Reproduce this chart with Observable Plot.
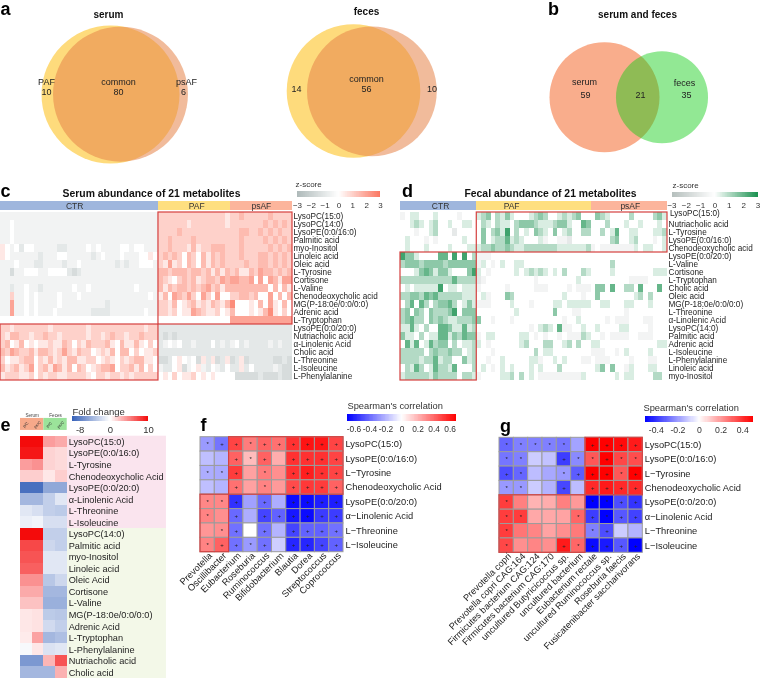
<!DOCTYPE html>
<html>
<head>
<meta charset="utf-8">
<script src="https://cdn.jsdelivr.net/npm/d3@7"></script>
<script src="https://cdn.jsdelivr.net/npm/@observablehq/plot@0.6"></script>
<style>
html,body{margin:0;padding:0;background:#fff}
#page{position:relative;width:760px;height:688px;overflow:hidden;filter:blur(0.5px)}
#page svg{position:absolute;left:0;top:0}
</style>
</head>
<body>
<div id="page"></div>
<script>
// ---------- values ----------
const vennSerum = [{name:"PAF",n:90},{name:"psAF",n:86}];
const vennFeces = [{name:"PAF",n:70},{name:"psAF",n:66}];
const vennBoth  = [{name:"serum",n:80},{name:"feces",n:56}];

const serumRows = ["LysoPC(15:0)","LysoPC(14:0)","LysoPE(0:0/16:0)","Palmitic acid","myo-Inositol","Linoleic acid","Oleic acid","L-Tyrosine","Cortisone","L-Valine","Chenodeoxycholic acid","MG(P-18:0e/0:0/0:0)","Adrenic acid","L-Tryptophan","LysoPE(0:0/20:0)","Nutriacholic acid","α-Linolenic Acid","Cholic acid","L-Threonine","L-Isoleucine","L-Phenylalanine"];
const fecalRows = ["LysoPC(15:0)","Nutriacholic acid","L-Tyrosine","LysoPE(0:0/16:0)","Chenodeoxycholic acid","LysoPE(0:0/20:0)","L-Valine","Cortisone","L-Tryptophan","Cholic acid","Oleic acid","MG(P-18:0e/0:0/0:0)","L-Threonine","α-Linolenic Acid","LysoPC(14:0)","Palmitic acid","Adrenic acid","L-Isoleucine","L-Phenylalanine","Linoleic acid","myo-Inositol"];

// one digit per sample: 0..9 stand for z = -1.5 .. 3 in half steps
const serumCTR = [
"22222 22222 22222 22222 22222 22222 222",
"22322 22222 22222 22222 22222 22222 222",
"22322 22222 22222 22222 22222 22222 222",
"22322 22222 22222 22222 22222 22222 222",
"43231 33222 22112 22232 32222 33233 222",
"43222 22212 22332 22221 23222 32223 343",
"22232 22112 22212 23222 22221 21223 332",
"22022 33322 33331 01222 22222 22222 222",
"22222 22222 22222 22222 22222 22222 222",
"22122 32212 22222 32232 22222 22232 222",
"22522 32322 22322 23222 22222 22222 232",
"22722 32322 22322 22222 22122 22222 222",
"22722 32322 23222 22221 11122 22222 322",
"33333 33333 33333 33333 33333 33333 333",
"55455 55555 45555 55545 55555 55555 455",
"54665 54556 55455 55545 54565 54556 555",
"56346 34344 54465 35465 55643 64464 353",
"65765 56466 54575 46553 45463 66353 445",
"53445 66354 64546 64455 34543 54566 443",
"64564 57356 47646 36534 56673 55646 353",
"45554 45354 55445 55543 55455 45455 555"];
const serumPAF = [
"55555 55555 55554","55555 54555 55554","55556 55555 55555","55655 55655 55555",
"55655 54645 56665","56565 36536 46565","54745 36536 46565","66566 65665 64646",
"65435 65645 66576","64656 65656 75646","46376 57537 53733","55463 45645 46546",
"55453 44765 44534","33333 33333 33333","11111 11111 11111","10101 11111 11111",
"12323 11211 13121","11111 11111 11111","00134 32304 14014","21134 02342 13213",
"34353 44534 34333"];
const serumPsAF = [
"55655 55565 555","55555 55656 565","55665 56565 655","55655 55656 565",
"55655 55565 656","55655 56656 565","55565 56656 565","56446 57665 656",
"77667 37376 477","66666 66636 364","55665 63373 636","83334 36374 363",
"63334 34684 353","77777 77777 777","11111 11111 111","11111 11111 111",
"23121 11121 211","11111 11111 111","01401 11110 010","11413 11112 100",
"30000 01000 100"];

const fecalCTR = [
"23443 33433 33233 3","33454 34533 43344 3","33323 34533 31333 3","34333 23233 33343 3","34333 43333 43334 4",
"86643 33377 38383 5","56665 66665 66666 6","33346 76466 43336 8","55555 55555 57555 5","34344 44483 44344 4",
"55665 76755 55544 4","35737 53566 75346 4","56365 36555 68366 6","56755 36565 44555 6","44743 53377 64474 5",
"64435 34477 46576 6","37473 47566 35344 5","55555 35655 65534 5","55554 55745 53364 5","35475 34755 47333 5",
"45555 54655 55355 4"];
const fecalPAF = [
"45635 46433 34565 33454 5633","35435 44356 66544 45664 3376","36356 48353 43654 36345 3355",
"36345 57454 33342 33221 3333","45565 56544 55555 55444 4445","22233 33333 33333 33333 3333",
"24323 43344 33333 33333 3333","43233 33343 45454 34353 3354","12333 33333 33233 33333 3433",
"23333 32333 33222 33332 3222","34233 36533 33333 33343 3323","22233 33433 32333 34434 4444",
"33333 33343 33333 36333 2233","63323 33233 33333 33323 3433","33333 33333 32345 43722 3343",
"23443 33334 43232 33232 2254","43233 33334 53335 53345 3533","33323 33333 33534 43333 3333",
"33233 43333 34423 34343 3322","34323 43433 34343 33533 3333","23333 44535 34322 22222 2243"];
const fecalPsAF = [
"36543 33353 33356 4","33353 33433 43334 3","33534 73344 33344 5","33335 63345 33323 4","23222 22224 34433 4",
"33333 33333 33333 3","33335 33333 33333 3","33334 33333 33344 4","33333 33322 22333 3","36637 33553 73337 3",
"36333 33334 53533 3","33443 33443 33433 3","33333 33233 33333 3","33323 22233 32233 3","34333 34433 33233 3",
"33232 22233 22233 3","44333 33333 33334 4","22233 23433 33433 3","32223 33323 33223 3","34636 33243 33443 3",
"33333 43443 33355 3"];

const foldRows = ["LysoPC(15:0)","LysoPE(0:0/16:0)","L-Tyrosine","Chenodeoxycholic Acid","LysoPE(0:0/20:0)","α-Linolenic Acid","L-Threonine","L-Isoleucine","LysoPC(14:0)","Palmitic acid","myo-Inositol","Linoleic acid","Oleic Acid","Cortisone","L-Valine","MG(P-18:0e/0:0/0:0)","Adrenic Acid","L-Tryptophan","L-Phenylalanine","Nutriacholic acid","Cholic acid"];
const foldValues = [
[10,10,4,3.5],[9.5,9.5,1.8,1.5],[4,4.5,1.8,1.5],[2,2,1,2],[-9,-9,-5.5,-5.5],[-4.5,-4.5,-3,-1.5],[-1.5,-2,-3,-3.3],[-1,-0.7,-2,-2],
[10,10,-3,-3],[7.5,7.5,-2.5,-3],[7,7,-1.5,-1.5],[6.5,6.5,-1.5,-1.5],[4.5,4.5,-3.5,-2.5],[3.5,3.5,-4.5,-4.5],[2.5,2.5,-5,-5],
[1,1.2,-3.3,-3.5],[1,1.2,-2.3,-3],[0.8,3.8,-4.5,-4],[-0.4,1,-1.8,-1.5],[-6.5,-6.5,3,7],[-4.5,-4.5,-4.5,3.2]];

const corrRows = ["LysoPC(15:0)","LysoPE(0:0/16:0)","L−Tyrosine","Chenodeoxycholic Acid","LysoPE(0:0/20:0)","α−Linolenic Acid","L−Threonine","L−Isoleucine"];
const genera = ["Prevotella","Oscillibacter","Eubacterium","Roseburia","Ruminococcus","Bifidobacterium","Blautia","Dorea","Streptococcus","Coprococcus"];
const generaValues = [
[-.27,-.37,.5,.35,.42,.38,.55,.63,.62,.5],[-.17,-.2,.42,.18,.42,.22,.55,.55,.55,.5],
[-.22,-.23,.52,.25,.35,.3,.55,.6,.55,.5],[-.17,-.2,.38,.25,.33,.27,.48,.53,.52,.42],
[.32,.32,-.55,-.25,-.4,-.22,-.65,-.65,-.6,-.6],[.33,.3,-.4,-.22,-.5,-.42,-.62,-.65,-.52,-.52],
[.28,.3,-.38,0,-.38,-.2,-.5,-.42,-.42,-.38],[.33,.42,-.38,-.27,-.38,-.13,-.58,-.58,-.5,-.42]];
const generaMarks = ["* + + * + + + + + +","- - + * + - + + + +","* * + - * - + + + +","- - + - * - + + + +","* * + - + - + + + +","* - + - + + + + + +","- * + - + - + + + +","* + + * + - + + + +"];

const species = ["Prevotella copri","Prevotella copri CAG:164","Firmicutes bacterium CAG:124","Firmicutes bacterium CAG:170","uncultured Butyricicoccus sp.","uncultured bacterium","Eubacterium rectale","uncultured Ruminococcus sp.","Roseburia faecis","Fusicatenibacter saccharivorans"];
const speciesValues = [
[-.3,-.25,-.25,-.25,-.27,-.18,.5,.52,.48,.45],[-.27,-.25,-.1,-.12,-.38,-.23,.33,.5,.36,.35],
[-.35,-.3,-.13,-.17,-.2,-.32,.58,.52,.33,.5],[-.2,-.2,-.1,-.15,-.36,-.13,.42,.45,.42,.42],
[.38,.25,.15,.16,.25,.2,-.55,-.57,-.35,-.4],[.38,.38,.17,.17,.18,.3,-.38,-.55,-.33,-.37],
[.38,.27,.24,.18,.22,.26,-.25,-.35,-.1,-.15],[.36,.22,.24,.22,.45,.3,-.48,-.45,-.33,-.5]];
const speciesMarks = ["* * * * * - + + + +","* * - - + * * + * *","+ * - - * + + + * +","* * - - + - + + + +","* - - - - - * * + +","* * - - - * + * + +","* - - - - - * + - -","* - - - + * + + + +"];

// ---------- styling and layout ----------
const FONT = "'Liberation Sans', Arial, sans-serif";
const INK = "#222";
const RED = "#d5403f";
const page = document.getElementById("page");
const add = (o) => page.appendChild(Plot.plot({
  width:760, height:688, margin:0,
  style:{background:"transparent", fontFamily:FONT, overflow:"visible"},
  ...o, x:{axis:null, ...o.x}, y:{axis:null, ...o.y}
}));
const px = (max) => ({domain:[0,max], range:[0,max]});

function venn(sets, rScale, circles) {
  add({x:px(760), y:px(688), r:rScale,
    marks: sets.map((s,i)=>Plot.dot([s],{x:()=>circles[i].cx, y:()=>circles[i].cy, r:"n", fill:circles[i].fill, fillOpacity:circles[i].alpha, stroke:"none"}))});
}
venn(vennSerum,{domain:[0,90],range:[0,69]},[{cx:110,cy:94,fill:"#fedb7c",alpha:1},{cx:120,cy:93.7,fill:"#e68349",alpha:.55}]);
venn(vennFeces,{domain:[0,70],range:[0,66.8]},[{cx:353,cy:90.5,fill:"#fedb7c",alpha:1},{cx:371.4,cy:90.8,fill:"#e68349",alpha:.55}]);
venn(vennBoth,{domain:[0,80],range:[0,55]},[{cx:604,cy:96.7,fill:"#f9ad8c",alpha:1},{cx:661.5,cy:96.7,fill:"#0dcc12",alpha:.45}]);

const decode = (parts) => parts.map(s => s.replace(/ /g,""));
function heat({ctr,paf,psaf,rows,x0,x1,y0,y1,color,bands,boxes,labelX,raiseFirst,head}) {
  const a = decode(ctr), b = decode(paf), c = decode(psaf);
  const nA=a[0].length, nB=b[0].length, nC=c[0].length, n=nA+nB+nC;
  const cells = [];
  rows.forEach((r,i)=>{ (a[i]+b[i]+c[i]).split("").forEach((d,j)=>cells.push({i:j,r:i,z:(+d-3)/2})); });
  const groups=[["CTR",0,nA,head[0],bands[0]],["PAF",nA,nA+nB,head[1],bands[1]],["psAF",nA+nB,n,head[2],bands[2]]];
  const rowH=(y1-y0)/rows.length;
  add({
    x:{domain:[0,n],range:[x0,x1]}, y:{domain:[0,rows.length],range:[y0,y1]}, color:{...color},
    marks:[
      Plot.rect(cells,{x1:"i",x2:d=>d.i+1,y1:"r",y2:d=>d.r+1,fill:"z",shapeRendering:"crispEdges"}),
      ...groups.map(g=>Plot.rect([g],{x1:d=>d[1],x2:d=>d[2],y1:-11/rowH,y2:-2/rowH,fill:g[4],shapeRendering:"crispEdges"})),
      Plot.text(groups,{x:d=>d[3],y:-6.5/rowH,text:d=>d[0],fontSize:8.5,fill:"#333"}),
      Plot.rect(boxes,{x1:d=>d[0],x2:d=>d[1],y1:d=>d[2],y2:d=>d[3],fill:"none",stroke:RED,strokeWidth:1.2}),
      Plot.text(raiseFirst?rows.slice(1):rows,{x:n,y:(d,i)=>i+.5+(raiseFirst?1:0),dx:labelX,text:d=>d,textAnchor:"start",fontSize:8.2,fill:INK}),
      ...(raiseFirst?[Plot.text([rows[0]],{x:n,y:.5,dx:labelX+1.5,dy:-3,text:d=>d,textAnchor:"start",fontSize:8.2,fill:INK})]:[])
    ]});
}
const serumColor = {type:"linear",domain:[-3,0,3],range:["#aeb9b9","#ffffff","#fb7661"],interpolate:"rgb",clamp:true};
const fecalColor = {type:"linear",domain:[-3,0,3],range:["#b4bebc","#ffffff","#1a9150"],interpolate:"rgb",clamp:true};
heat({ctr:serumCTR,paf:serumPAF,psaf:serumPsAF,rows:serumRows,x0:0,x1:292,y0:212,y1:380,color:serumColor,
  bands:["#9fb6dd","#fedf80","#fcb59c"],head:[15.5,41,54.5],labelX:1,
  boxes:[[33,61,0,14],[0,33,14,21]]});
heat({ctr:fecalCTR,paf:fecalPAF,psaf:fecalPsAF,rows:fecalRows,x0:400,x1:667,y0:212,y1:380,color:fecalColor,
  bands:["#9fb6dd","#fedf80","#fcb59c"],head:[8.4,23.3,48.2],labelX:1,raiseFirst:true,
  boxes:[[16,56,0,5],[0,16,5,21]]});

function legend({x0,x1,top,bottom,domain,color,ticks,fmt,fontSize,step}) {
  const steps = d3.range(domain[0],domain[1],step);
  add({x:{domain,range:[x0,x1]}, y:{domain:[0,1],range:[top,bottom]}, color:{...color},
    marks:[
      Plot.rect(steps,{x1:d=>d,x2:d=>d+step,y1:0,y2:1,fill:d=>d+step/2,shapeRendering:"crispEdges"}),
      Plot.text(ticks,{x:d=>d,y:1,dy:8,text:fmt,fontSize,fill:"#333"})
    ]});
}
legend({x0:297,x1:380,top:191,bottom:197,domain:[-3,3],color:serumColor,ticks:[-3,-2,-1,0,1,2,3],fmt:d3.format("d"),fontSize:8,step:.05});
legend({x0:671.5,x1:757.5,top:192,bottom:197,domain:[-3,3],color:fecalColor,ticks:[-3,-2,-1,0,1,2,3],fmt:d3.format("d"),fontSize:8,step:.05});

const foldColor = {type:"linear",domain:[-10,0,10],range:["#3560b8","#ffffff","#f40b0b"],interpolate:"rgb",clamp:true};
legend({x0:72,x1:148,top:415.5,bottom:421,domain:[-10,10],color:foldColor,ticks:[-8,0,10],fmt:d=>String(d),fontSize:9.5,step:.2});

const foldCells = foldValues.flatMap((v,r)=>v.map((z,i)=>({i,r,z})));
const foldHead = [["p/C",0.45],["ps/C",1.45],["p/C",2.45],["ps/C",3.45]];
add({x:{domain:[0,4],range:[20,66.7]}, y:{domain:[0,21],range:[435.7,678]}, color:{...foldColor},
  marks:[
    Plot.rect([0],{x1:4,x2:12.5,y1:0,y2:8,fill:"#fae4ee"}),
    Plot.rect([0],{x1:4,x2:12.5,y1:8,y2:21,fill:"#f3f8e8"}),
    Plot.rect(foldCells,{x1:"i",x2:d=>d.i+1,y1:"r",y2:d=>d.r+1,fill:"z",shapeRendering:"crispEdges"}),
    Plot.rect([0],{x1:0,x2:2,y1:-1.54,y2:-.5,fill:"#f6a98a"}),
    Plot.rect([0],{x1:2,x2:4,y1:-1.54,y2:-.5,fill:"#9be39a"}),
    Plot.text(["Serum"],{x:1,y:-1.8,text:d=>d,fontSize:4.6,fill:"#444"}),
    Plot.text(["Feces"],{x:3,y:-1.8,text:d=>d,fontSize:4.6,fill:"#444"}),
    Plot.text(foldHead,{x:d=>d[1],y:-1,text:d=>d[0],rotate:-45,fontSize:4,fill:"#333"}),
    Plot.text(foldRows,{x:4,y:(d,i)=>i+.5,dx:1.5,text:d=>d,textAnchor:"start",fontSize:9.2,fill:INK})
  ]});

function corr({values,marks,names,x0,x1,y0,y1,color,split,fontSize}) {
  const cells = values.flatMap((v,r)=>v.map((z,i)=>({i,r,z})));
  const symbols = marks.flatMap((m,r)=>m.split(" ").map((s,i)=>({i,r,s}))).filter(d=>d.s!=="-");
  add({x:{domain:[0,10],range:[x0,x1]}, y:{domain:[0,8],range:[y0,y1]}, color:{...color},
    marks:[
      Plot.rect(cells,{x1:"i",x2:d=>d.i+1,y1:"r",y2:d=>d.r+1,fill:"z",stroke:"#9c9c9c",strokeWidth:1}),
      Plot.text(symbols,{x:d=>d.i+.5,y:d=>d.r+.5,text:"s",fontSize:6,fill:"#222"}),
      Plot.rect([[split,10,0,4],[0,split,4,8]],{x1:d=>d[0],x2:d=>d[1],y1:d=>d[2],y2:d=>d[3],fill:"none",stroke:RED,strokeWidth:1.2}),
      Plot.text(corrRows,{x:10,y:(d,i)=>i+.5,dx:2,text:d=>d,textAnchor:"start",fontSize:9.3,fill:INK}),
      Plot.text(names,{x:(d,i)=>i+.5,y:8,dx:3,dy:2,text:d=>d,rotate:-45,textAnchor:"end",fontSize,fill:INK})
    ]});
}
const corrF = {type:"linear",domain:[-.68,0,.68],range:["#0000ff","#ffffff","#ff0000"],interpolate:"rgb",clamp:true};
const corrG = {type:"linear",domain:[-.5,0,.5],range:["#0000ff","#ffffff","#ff0000"],interpolate:"rgb",clamp:true};
corr({values:generaValues,marks:generaMarks,names:genera,x0:200,x1:343,y0:436.7,y1:551.7,color:corrF,split:2,fontSize:9.3});
corr({values:speciesValues,marks:speciesMarks,names:species,x0:499,x1:642.3,y0:437.3,y1:552.3,color:corrG,split:6,fontSize:9.2});
legend({x0:347,x1:456,top:414,bottom:421,domain:[-.68,.68],color:corrF,ticks:[-.6,-.4,-.2,0,.2,.4,.6],fmt:d=>String(d),fontSize:8.4,step:.01});
legend({x0:645,x1:753,top:415.5,bottom:422,domain:[-.5,.5],color:corrG,ticks:[-.4,-.2,0,.2,.4],fmt:d=>String(d),fontSize:8.7,step:.01});

// titles, panel letters and free labels
const letters = [["a",5,9],["b",553,9],["c",5,191],["d",407,191],["e",5,425],["f",203,425],["g",505,426]];
const titles = [["serum",108,14,10],["feces",366,11,10],["serum and feces",637,14,10],
  ["Serum abundance of 21 metabolites",151,193.5,10.4],["Fecal abundance of 21 metabolites",550,193.5,10.4]];
const notes = [["PAF",46,82],["10",46,92],["common",118,82],["80",118,92],["psAF",186,82],["6",183,92],
  ["14",296,89],["common",366,79],["56",366,89],["10",431.5,89],
  ["serum",584,82],["59",585,95],["21",640,95],["feces",684,82.5],["35",686,95]];
const heads = [["z-score",295,184,8],["z-score",672,185,8],["Fold change",72,411,9.5],["Spearman's correlation",347,405.5,9.3],["Spearman's correlation",643,408,9.3]];
add({x:px(760),y:px(688),marks:[
  Plot.text(letters,{x:d=>d[1],y:d=>d[2],text:d=>d[0],fontSize:18,fontWeight:"bold",fill:"#000"}),
  ...titles.map(t=>Plot.text([t],{x:d=>d[1],y:d=>d[2],text:d=>d[0],fontSize:t[3],fontWeight:"bold",fill:"#111"})),
  Plot.text(notes,{x:d=>d[1],y:d=>d[2],text:d=>d[0],fontSize:9,fill:"#222"}),
  ...heads.map(t=>Plot.text([t],{x:d=>d[1],y:d=>d[2],text:d=>d[0],textAnchor:"start",fontSize:t[3],fill:"#333"}))
]});
</script>
</body>
</html>
